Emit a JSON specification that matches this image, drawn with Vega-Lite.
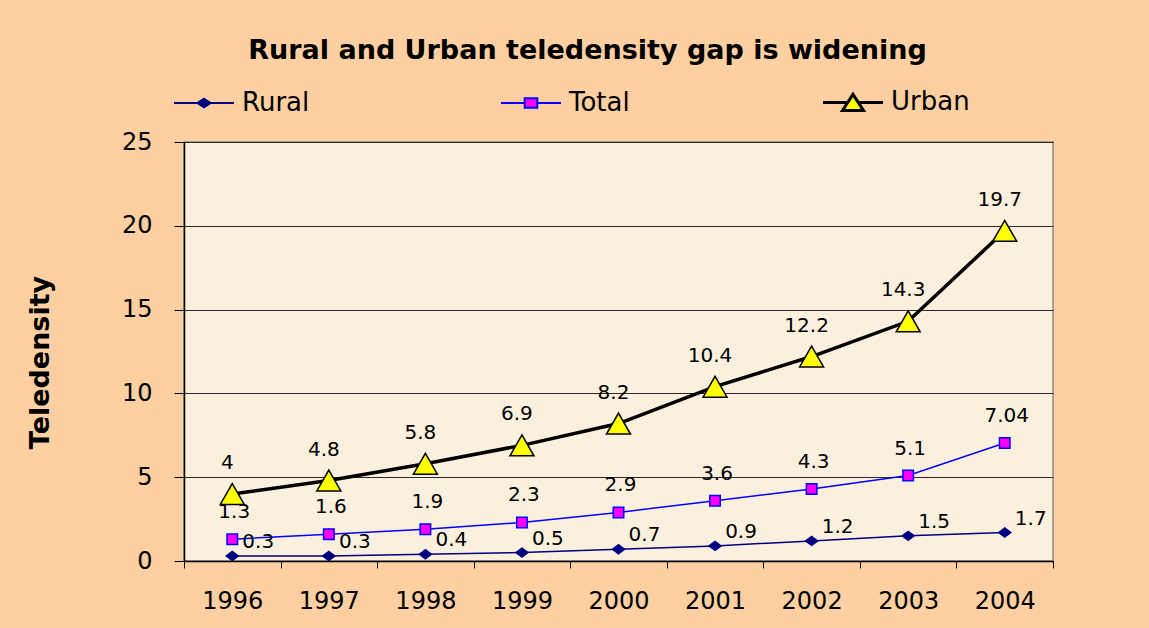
{
  "$schema": "https://vega.github.io/schema/vega-lite/v6.json",
  "width": 869,
  "height": 419,
  "autosize": {"type": "none"},
  "padding": {"left": 184, "top": 142, "right": 96, "bottom": 67},
  "background": "#FDCFA1",
  "title": {
    "text": "Rural and Urban teledensity gap is widening",
    "font": "DejaVu Sans",
    "fontSize": 27,
    "fontWeight": "bold",
    "color": "#000000",
    "anchor": "middle",
    "dx": -31,
    "offset": 24
  },
  "config": {
    "view": {"fill": "#FBF0DE", "stroke": "#8C8C8C", "strokeWidth": 1.5},
    "font": "DejaVu Sans"
  },
  "data": {
    "values": [
      {"Year": "1996", "Series": "Rural", "Value": 0.3},
      {"Year": "1997", "Series": "Rural", "Value": 0.3},
      {"Year": "1998", "Series": "Rural", "Value": 0.4},
      {"Year": "1999", "Series": "Rural", "Value": 0.5},
      {"Year": "2000", "Series": "Rural", "Value": 0.7},
      {"Year": "2001", "Series": "Rural", "Value": 0.9},
      {"Year": "2002", "Series": "Rural", "Value": 1.2},
      {"Year": "2003", "Series": "Rural", "Value": 1.5},
      {"Year": "2004", "Series": "Rural", "Value": 1.7},
      {"Year": "1996", "Series": "Total", "Value": 1.3},
      {"Year": "1997", "Series": "Total", "Value": 1.6},
      {"Year": "1998", "Series": "Total", "Value": 1.9},
      {"Year": "1999", "Series": "Total", "Value": 2.3},
      {"Year": "2000", "Series": "Total", "Value": 2.9},
      {"Year": "2001", "Series": "Total", "Value": 3.6},
      {"Year": "2002", "Series": "Total", "Value": 4.3},
      {"Year": "2003", "Series": "Total", "Value": 5.1},
      {"Year": "2004", "Series": "Total", "Value": 7.04},
      {"Year": "1996", "Series": "Urban", "Value": 4},
      {"Year": "1997", "Series": "Urban", "Value": 4.8},
      {"Year": "1998", "Series": "Urban", "Value": 5.8},
      {"Year": "1999", "Series": "Urban", "Value": 6.9},
      {"Year": "2000", "Series": "Urban", "Value": 8.2},
      {"Year": "2001", "Series": "Urban", "Value": 10.4},
      {"Year": "2002", "Series": "Urban", "Value": 12.2},
      {"Year": "2003", "Series": "Urban", "Value": 14.3},
      {"Year": "2004", "Series": "Urban", "Value": 19.7}
    ]
  },
  "encoding": {
    "x": {
      "field": "Year",
      "type": "ordinal",
      "scale": {"type": "band", "paddingInner": 0, "paddingOuter": 0},
      "axis": {
        "title": null,
        "labelAngle": 0,
        "tickBand": "extent",
        "tickSize": 7,
        "tickColor": "#000000",
        "domainColor": "#000000",
        "domainWidth": 1.5,
        "labelFont": "DejaVu Sans",
        "labelFontSize": 24,
        "labelColor": "#000000",
        "labelPadding": 21,
        "grid": false
      }
    },
    "y": {
      "field": "Value",
      "type": "quantitative",
      "scale": {"domain": [0, 25]},
      "axis": {
        "title": "Teledensity",
        "titleFont": "DejaVu Sans",
        "titleFontSize": 27,
        "titleFontWeight": "bold",
        "titleColor": "#000000",
        "titlePadding": 67,
        "titleY": 220,
        "values": [0, 5, 10, 15, 20, 25],
        "tickSize": 10,
        "tickColor": "#000000",
        "domainColor": "#000000",
        "domainWidth": 1.5,
        "labelFont": "DejaVu Sans",
        "labelFontSize": 24,
        "labelColor": "#000000",
        "labelPadding": 22,
        "grid": true,
        "gridColor": "#2A2A2A",
        "gridWidth": 1
      }
    }
  },
  "layer": [
    {
      "mark": {"type": "line"},
      "encoding": {
        "stroke": {
          "field": "Series",
          "type": "nominal",
          "scale": {"domain": ["Rural", "Total", "Urban"], "range": ["#000080", "#0000FF", "#000000"]},
          "legend": {
            "title": null,
            "orient": "top",
            "direction": "horizontal",
            "symbolSize": 3600,
            "symbolOffset": 7,
            "labelFont": "DejaVu Sans",
            "labelFontSize": 26,
            "labelColor": "#000000",
            "labelOffset": 25,
            "columnPadding": 187,
            "offset": 25,
            "encode": {
              "symbols": {
                "update": {
                  "shape": {"signal": "datum.value === 'Urban' ? 'M-1,0H-0.2M0.2,0H1M0,-0.27L0.35,0.27H-0.35Z' : datum.value === 'Total' ? 'M-1,0H-0.21M0.21,0H1M-0.21,-0.16H0.21V0.16H-0.21Z' : 'M-1,0H1M0,-0.14L0.22,0L0,0.14L-0.22,0Z'"},
                  "fill": {"signal": "datum.value === 'Urban' ? '#FFFF00' : datum.value === 'Total' ? '#FF00FF' : '#000080'"},
                  "stroke": {"signal": "datum.value === 'Urban' ? '#000000' : datum.value === 'Total' ? '#0000FF' : '#000080'"},
                  "strokeWidth": {"signal": "datum.value === 'Urban' ? 3 : 2"},
                  "opacity": {"value": 1}
                }
              }
            }
          }
        },
        "strokeWidth": {
          "condition": {"test": "datum.Series === 'Urban'", "value": 3.5},
          "value": 1.5
        }
      }
    },
    {
      "mark": {"type": "point", "filled": true, "strokeWidth": 1.5, "opacity": 1},
      "encoding": {
        "shape": {
          "condition": [
            {"test": "datum.Series === 'Urban'", "value": "M0,-0.87L1,0.87H-1Z"},
            {"test": "datum.Series === 'Total'", "value": "square"}
          ],
          "value": "M-1,0L0,-0.75L1,0L0,0.75Z"
        },
        "fill": {
          "condition": [
            {"test": "datum.Series === 'Urban'", "value": "#FFFF00"},
            {"test": "datum.Series === 'Total'", "value": "#FF00FF"}
          ],
          "value": "#000080"
        },
        "stroke": {
          "condition": [
            {"test": "datum.Series === 'Urban'", "value": "#000000"},
            {"test": "datum.Series === 'Total'", "value": "#0000FF"}
          ],
          "value": "#000080"
        },
        "size": {
          "condition": [
            {"test": "datum.Series === 'Urban'", "value": 576},
            {"test": "datum.Series === 'Total'", "value": 110}
          ],
          "value": 144
        }
      }
    },
    {
      "transform": [{"filter": "datum.Series === 'Rural'"}],
      "mark": {"type": "text", "dx": 26, "dy": -14, "font": "DejaVu Sans", "fontSize": 20, "color": "#000000"},
      "encoding": {"text": {"field": "Value", "type": "quantitative", "format": "~g"}}
    },
    {
      "transform": [{"filter": "datum.Series === 'Total'"}],
      "mark": {"type": "text", "dx": 2, "dy": -27, "font": "DejaVu Sans", "fontSize": 20, "color": "#000000"},
      "encoding": {"text": {"field": "Value", "type": "quantitative", "format": "~g"}}
    },
    {
      "transform": [{"filter": "datum.Series === 'Urban'"}],
      "mark": {"type": "text", "dx": -5, "dy": -31, "font": "DejaVu Sans", "fontSize": 20, "color": "#000000"},
      "encoding": {"text": {"field": "Value", "type": "quantitative", "format": "~g"}}
    }
  ]
}
